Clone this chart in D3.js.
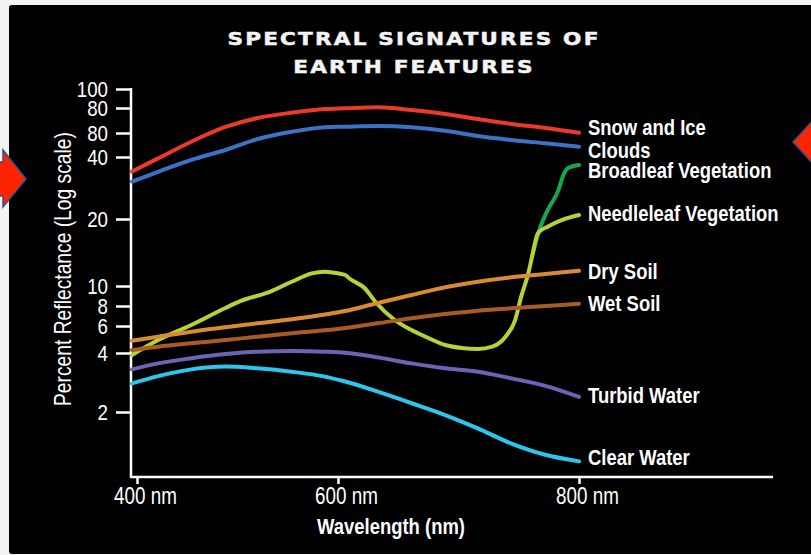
<!DOCTYPE html>
<html><head><meta charset="utf-8">
<script src="https://cdn.jsdelivr.net/npm/d3@7"></script>
<style>html,body{margin:0;padding:0;background:#f3f3f3;} svg{display:block;}</style>
</head><body>
<svg id="chart" width="811" height="555"></svg>
<script>
// ---------- data ----------
const chartTitle = ["SPECTRAL SIGNATURES OF", "EARTH FEATURES"];
const xTitle = "Wavelength (nm)";
const yTitle = "Percent Reflectance (Log scale)";
const xTickValues = [400, 600, 800];
const xTickLabels = ["400 nm", "600 nm", "800 nm"];
const yTickValues = [2, 4, 6, 8, 10, 20, 40, 60, 80, 100];
const yTickLabels = ["2", "4", "6", "8", "10", "20", "40", "80", "80", "100"];

const wavelengths = [395, 421, 454, 488, 520, 554, 587, 606, 633, 661, 689, 716, 744, 772, 800];
const snowIce   = [34, 39.4, 51.8, 64.3, 71.3, 75.8, 79.1, 79.8, 80.7, 78.2, 74.7, 70.5, 66.6, 63.6, 60.2];
const clouds    = [30.4, 33.9, 38.7, 45.0, 54.2, 60.9, 64.1, 64.5, 65.0, 64.1, 61.6, 57.0, 53.3, 50.4, 47.6];
const drySoil   = [4.81, 5.11, 5.51, 5.89, 6.24, 6.61, 7.08, 7.44, 8.27, 9.04, 9.86, 10.45, 10.94, 11.32, 11.71];
const wetSoil   = [4.18, 4.40, 4.63, 4.86, 5.11, 5.38, 5.62, 5.82, 6.24, 6.71, 7.13, 7.48, 7.74, 8.0, 8.21];
const turbidWater = [3.30, 3.54, 3.76, 3.95, 4.08, 4.12, 4.08, 4.02, 3.80, 3.54, 3.34, 3.21, 2.97, 2.72, 2.39];
const clearWater  = [2.80, 3.05, 3.30, 3.41, 3.34, 3.21, 3.03, 2.86, 2.54, 2.22, 1.93, 1.65, 1.38, 1.21, 1.12];

const needleWavelengths = [395, 421, 454, 488, 504, 530, 554, 574, 587, 600, 606, 610, 622, 631, 647, 661, 675, 689, 703, 716, 728, 739, 747, 752, 758, 761, 766, 774, 786, 800];
const needleleaf = [3.91, 4.86, 6.09, 7.78, 8.49, 9.28, 10.45, 11.40, 11.59, 11.40, 11.2, 10.75, 9.78, 8.39, 6.54, 5.65, 5.01, 4.51, 4.31, 4.25, 4.40, 5.11, 6.54, 8.88, 11.44, 13.54, 17.3, 18.47, 19.8, 20.9];
const broadWavelengths = [761, 767, 774, 783, 787, 791, 800];
const broadleaf = [13.54, 17.8, 22.1, 27.7, 32.7, 35.4, 36.6];

const seriesNames = ["Snow and Ice", "Clouds", "Broadleaf Vegetation", "Needleleaf Vegetation", "Dry Soil", "Wet Soil", "Turbid Water", "Clear Water"];
const seriesColors = ["#ec3a2a", "#3b72c6", "#16a84c", "#b3d336", "#da8a30", "#a85c24", "#6d63b5", "#2cc6ec"];

// ---------- build ----------
const series = [
  {name: seriesNames[0], color: seriesColors[0], xs: wavelengths, ys: snowIce, nudge: -6},
  {name: seriesNames[1], color: seriesColors[1], xs: wavelengths, ys: clouds, nudge: 3},
  {name: seriesNames[2], color: seriesColors[2], xs: broadWavelengths, ys: broadleaf, nudge: 5},
  {name: seriesNames[3], color: seriesColors[3], xs: needleWavelengths, ys: needleleaf, nudge: -2},
  {name: seriesNames[4], color: seriesColors[4], xs: wavelengths, ys: drySoil, nudge: 0},
  {name: seriesNames[5], color: seriesColors[5], xs: wavelengths, ys: wetSoil, nudge: -1},
  {name: seriesNames[6], color: seriesColors[6], xs: wavelengths, ys: turbidWater, nudge: -2},
  {name: seriesNames[7], color: seriesColors[7], xs: wavelengths, ys: clearWater, nudge: -5}
];

const SANS = "'Liberation Sans',Arial,sans-serif";
const SX = 0.82; // condensed look
const svg = d3.select("#chart");

// frame / decorations
svg.append("rect").attr("x", 9).attr("y", 5).attr("width", 812).attr("height", 549)
  .attr("rx", 3).attr("fill", "#000");
svg.append("path")
  .attr("d", "M-10,162 L3,162 L3,150 L26,179 L3,207 L3,196 L-10,196 Z")
  .attr("fill", "#ff2400").attr("stroke", "#34508a").attr("stroke-width", 1.5);
svg.append("path")
  .attr("d", "M793,142 L815,118 L815,166 Z")
  .attr("fill", "#ff2400").attr("stroke", "#34508a").attr("stroke-width", 1.5);

// scales
const x = d3.scaleLinear().domain([400, 600, 800]).range([137, 338, 579]);
const y = d3.scaleLog().domain(yTickValues).range([412, 353, 326, 306, 286, 219, 157, 133, 108, 89]);

// title
svg.append("g").selectAll("text").data(chartTitle).join("text")
  .attr("transform", (d, i) => `translate(414,${45 + i * 27.5}) scale(1.2,1)`)
  .attr("text-anchor", "middle")
  .attr("fill", "#f4f4f4")
  .attr("stroke", "#f4f4f4").attr("stroke-width", 0.5)
  .style("font-family", "'DejaVu Sans',sans-serif")
  .style("font-weight", "bold")
  .style("font-size", "18px")
  .style("letter-spacing", "1.8px")
  .text(d => d);

// axes
const TS = 0.85;
const yAxis = svg.append("g").attr("transform", "translate(131,0)")
  .call(d3.axisLeft(y).tickValues(yTickValues).tickFormat((d, i) => yTickLabels[i]).tickSize(15).tickPadding(8));
yAxis.select(".domain").remove();
yAxis.selectAll(".tick line").attr("stroke", "#fff").attr("stroke-width", 2.5);
yAxis.selectAll(".tick text").attr("fill", "#fff")
  .attr("x", -23 / TS).attr("transform", `scale(${TS},1)`)
  .style("font-family", SANS).style("font-size", "22px");

const xAxis = svg.append("g").attr("transform", "translate(0,477)")
  .call(d3.axisBottom(x).tickValues(xTickValues).tickFormat((d, i) => xTickLabels[i]).tickSize(7).tickPadding(4));
xAxis.select(".domain").remove();
xAxis.selectAll(".tick line").attr("stroke", "#fff").attr("stroke-width", 2.5);
xAxis.selectAll(".tick text").attr("fill", "#fff")
  .attr("dx", 8 / SX).attr("transform", `scale(${SX},1)`)
  .style("font-family", SANS).style("font-size", "23px");

svg.append("line").attr("x1", 131).attr("x2", 131).attr("y1", 88).attr("y2", 478)
  .attr("stroke", "#fff").attr("stroke-width", 2.5);
svg.append("line").attr("x1", 130).attr("x2", 773).attr("y1", 477).attr("y2", 477)
  .attr("stroke", "#fff").attr("stroke-width", 2.5);

svg.append("text").attr("transform", `translate(391,534) scale(${SX},1)`).attr("text-anchor", "middle")
  .attr("fill", "#fff").style("font-family", SANS).style("font-weight", "bold").style("font-size", "22.5px")
  .text(xTitle);
svg.append("text").attr("transform", `translate(71,269) rotate(-90) scale(${SX},1)`).attr("text-anchor", "middle")
  .attr("fill", "#fff").style("font-family", SANS).style("font-size", "23.5px")
  .text(yTitle);

// lines
const line = d3.line().x(d => x(d[0])).y(d => y(d[1])).curve(d3.curveMonotoneX);
svg.append("g").selectAll("path").data(series).join("path")
  .attr("d", s => line(s.xs.map((w, i) => [w, s.ys[i]])))
  .attr("fill", "none").attr("stroke", s => s.color)
  .attr("stroke-width", 4).attr("stroke-linecap", "round").attr("stroke-linejoin", "round");

// labels
svg.append("g").selectAll("text").data(series).join("text")
  .attr("transform", s => `translate(588,${y(s.ys[s.ys.length - 1]) + s.nudge}) scale(${SX},1)`)
  .attr("dominant-baseline", "central")
  .attr("fill", "#fff")
  .style("font-family", SANS).style("font-weight", "bold").style("font-size", "22.5px")
  .text(s => s.name);
</script>
</body></html>
